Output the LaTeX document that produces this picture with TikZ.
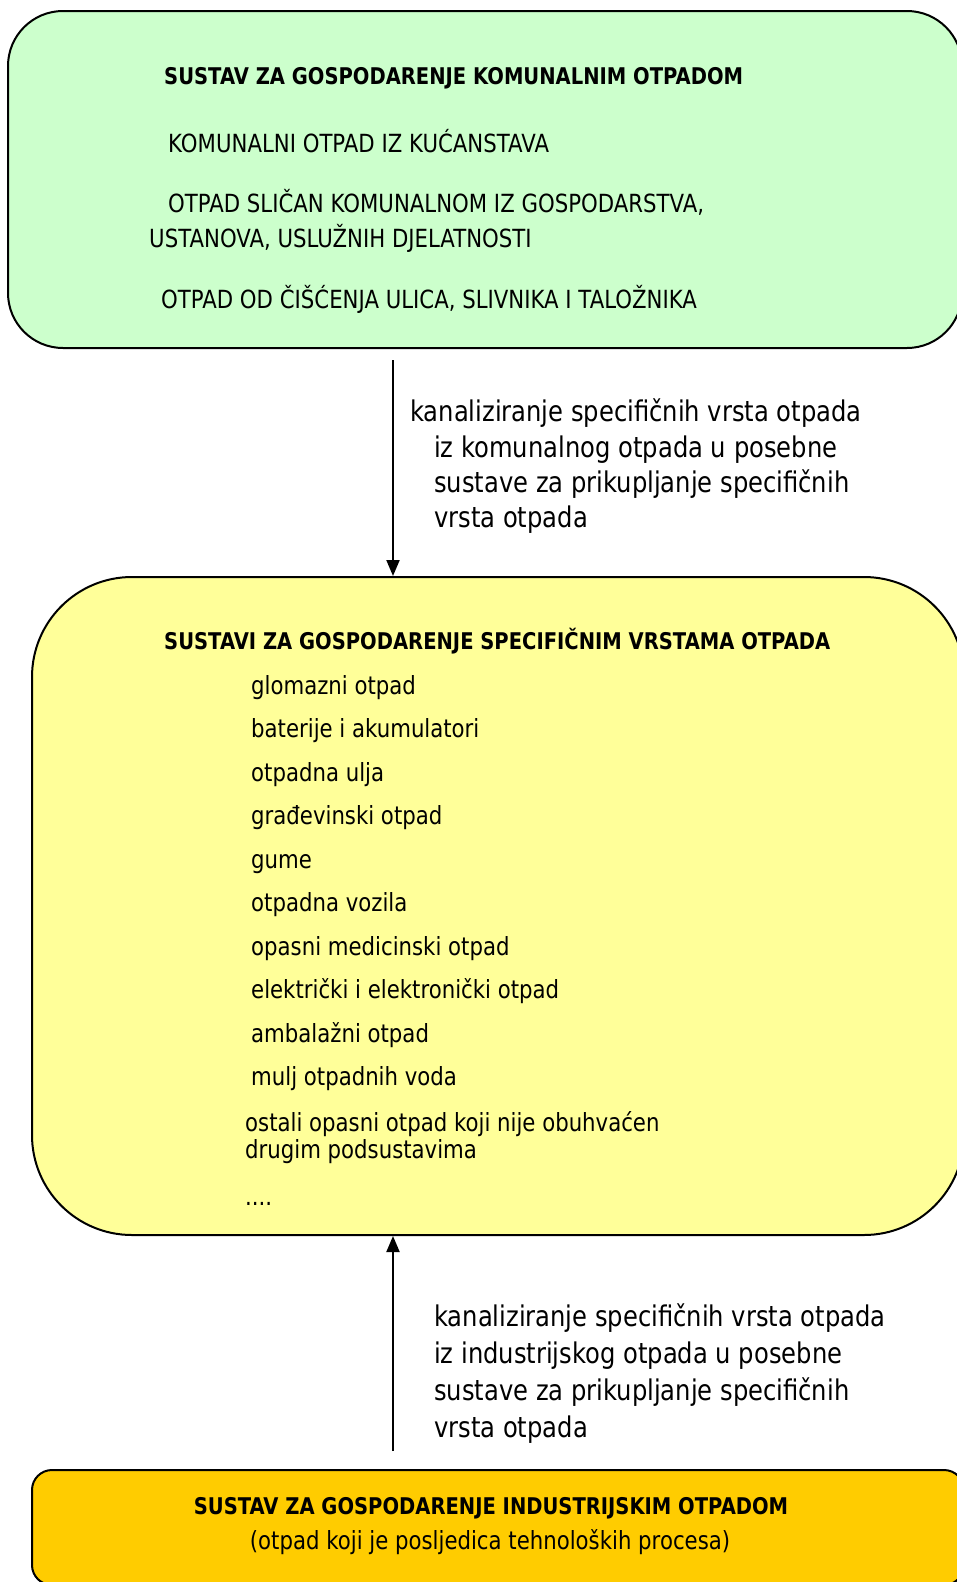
\documentclass[tikz,border=0pt]{standalone}
\usepackage{fontspec}
\setmainfont{DejaVu Sans}[FakeStretch=0.85]
\usetikzlibrary{arrows.meta}
\definecolor{cgreen}{HTML}{CCFFCC}
\definecolor{cyellow}{HTML}{FFFF99}
\definecolor{corange}{HTML}{FFCC00}
\begin{document}
\begin{tikzpicture}[x=1pt,y=-1pt,
  box/.style={draw=black, line width=2pt, inner sep=0pt},
  body/.style={anchor=west, inner sep=0pt, font=\fontsize{25}{28}\selectfont, text height=17pt, text depth=0pt},
  bodyb/.style={body, font=\fontsize{23}{28}\selectfont\bfseries},
  bodyc/.style={body, anchor=center},
  bodybc/.style={bodyb, anchor=center},
  lbl/.style={anchor=west, inner sep=0pt, font=\fontsize{28.5}{32}\selectfont, text height=20pt, text depth=0pt},
  flow/.style={line width=2pt, -{Triangle[length=16pt,width=13pt]}}]
\useasboundingbox (0,0) rectangle (957,1582);
\clip (0,0) rectangle (957,1582);

% boxes
\node[box, fill=cgreen, rounded corners=55pt, minimum width=954pt, minimum height=337pt] (green) at (485,179.5) {};
\node[box, fill=cyellow, rounded corners=100pt, minimum width=932pt, minimum height=658pt] (yellow) at (498,906) {};
\node[box, fill=corange, rounded corners=20pt, minimum width=932pt, minimum height=115pt] (orange) at (498,1527.5) {};

% green texts
\node[bodyb] (g0) at (164,76) {SUSTAV ZA GOSPODARENJE KOMUNALNIM OTPADOM};
\node[body] (g1) at (168,144) {KOMUNALNI OTPAD IZ KUĆANSTAVA};
\node[body] (g2) at (168,204) {OTPAD SLIČAN KOMUNALNOM IZ GOSPODARSTVA,};
\node[body] (g3) at (149,239) {USTANOVA, USLUŽNIH DJELATNOSTI};
\node[body] (g4) at (161,300) {OTPAD OD ČIŠĆENJA ULICA, SLIVNIKA I TALOŽNIKA};

% arrow 1
\coordinate (a1) at (393,360);
\draw[flow] (a1) -- (a1 |- yellow.north);
\node[lbl] (l1a) at (410,411) {kanaliziranje specifičnih vrsta otpada};
\node[lbl] (l1b) at (434,447) {iz komunalnog otpada u posebne};
\node[lbl] (l1c) at (434,482) {sustave za prikupljanje specifičnih};
\node[lbl] (l1d) at (434,517) {vrsta otpada};

% yellow texts
\node[bodyb] (y0) at (164,641) {SUSTAVI ZA GOSPODARENJE SPECIFIČNIM VRSTAMA OTPADA};
\node[body] (y1) at (251,686) {glomazni otpad};
\node[body] (y2) at (251,729) {baterije i akumulatori};
\node[body] (y3) at (251,773) {otpadna ulja};
\node[body] (y4) at (251,816) {građevinski otpad};
\node[body] (y5) at (251,860) {gume};
\node[body] (y6) at (251,903) {otpadna vozila};
\node[body] (y7) at (251,947) {opasni medicinski otpad};
\node[body] (y8) at (251,990) {električki i elektronički otpad};
\node[body] (y9) at (251,1034) {ambalažni otpad};
\node[body] (y10) at (251,1077) {mulj otpadnih voda};
\node[body] (y11) at (245,1123) {ostali opasni otpad koji nije obuhvaćen};
\node[body] (y12) at (245,1150) {drugim podsustavima};
\node[body] (y13) at (245,1197) {....};

% arrow 2
\coordinate (a2) at (393,1451);
\draw[flow] (a2) -- (a2 |- yellow.south);
\node[lbl] (l2a) at (434,1316) {kanaliziranje specifičnih vrsta otpada};
\node[lbl] (l2b) at (434,1353) {iz industrijskog otpada u posebne};
\node[lbl] (l2c) at (434,1390) {sustave za prikupljanje specifičnih};
\node[lbl] (l2d) at (434,1427) {vrsta otpada};

% orange texts
\node[bodybc] (o0) at (491,1506) {SUSTAV ZA GOSPODARENJE INDUSTRIJSKIM OTPADOM};
\node[bodyc] (o1) at (490,1541) {(otpad koji je posljedica tehnoloških procesa)};
\end{tikzpicture}
\end{document}
